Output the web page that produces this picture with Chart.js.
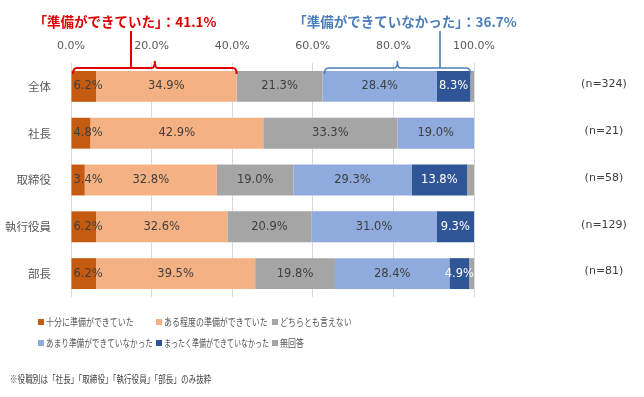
<!DOCTYPE html>
<html lang="ja">
<head>
<meta charset="utf-8">
<script src="https://cdn.jsdelivr.net/npm/chart.js@4"></script>
<style>
  html, body { margin: 0; padding: 0; background: #fff; }
  #wrap { position: relative; width: 644px; height: 397px; }
</style>
</head>
<body>
<div id="wrap"><canvas id="grafico"></canvas></div>
<script>
// dados
const categories = ['全体', '社長', '取締役', '執行役員', '部長'];
const sampleSizes = ['(n=324)', '(n=21)', '(n=58)', '(n=129)', '(n=81)'];
const seriesNames = ['十分に準備ができていた', 'ある程度の準備ができていた', 'どちらとも言えない',
                     'あまり準備ができていなかった', 'まったく準備ができていなかった', '無回答'];
const fullyPrepared    = [6.2, 4.8, 3.4, 6.2, 6.2];
const somewhatPrepared = [34.9, 42.9, 32.8, 32.6, 39.5];
const neutral          = [21.3, 33.3, 19.0, 20.9, 19.8];
const notVeryPrepared  = [28.4, 19.0, 29.3, 31.0, 28.4];
const notAtAllPrepared = [8.3, 0, 13.8, 9.3, 4.9];
const noAnswer         = [0.9, 0, 1.7, 0, 1.2];
const xTickValues = [0, 20, 40, 60, 80, 100];
const preparedTotal = 41.1;
const notPreparedTotal = 36.7;
const preparedLabel = '「準備ができていた」：' + preparedTotal.toFixed(1) + '%';
const notPreparedLabel = '「準備ができていなかった」：' + notPreparedTotal.toFixed(1) + '%';

const colors = ['#C55A11', '#F4B183', '#A5A5A5', '#8FAADC', '#2F5597', '#A5A5A5'];
const seriesData = [fullyPrepared, somewhatPrepared, neutral, notVeryPrepared, notAtAllPrepared, noAnswer];

const FONT_NUM = '"DejaVu Sans", "Noto Sans CJK JP", sans-serif';
const FONT_JP = '"Noto Sans CJK JP", "Noto Sans", sans-serif';

// rótulos de valor dentro das barras
const rotulosPlugin = {
    id: 'rotulos',
    afterDatasetsDraw(chart) {
        const ctx = chart.ctx;
        ctx.save();
        ctx.font = '11.5px ' + FONT_NUM;
        ctx.textBaseline = 'middle';
        chart.data.datasets.forEach((ds, di) => {
            if (di === 5) return;
            const meta = chart.getDatasetMeta(di);
            meta.data.forEach((bar, i) => {
                const v = ds.data[i];
                if (!v) return;
                const txt = v.toFixed(1) + '%';
                const w = ctx.measureText(txt).width;
                const left = Math.min(bar.x, bar.base);
                const segW = Math.abs(bar.x - bar.base);
                ctx.fillStyle = di === 4 ? '#FFFFFF' : '#404040';
                if (di === 0 && w > segW) {
                    ctx.textAlign = 'left';
                    ctx.fillText(txt, left + 2, bar.y);
                } else {
                    ctx.textAlign = 'center';
                    ctx.fillText(txt, left + segW / 2, bar.y);
                }
            });
        });
        ctx.restore();
    }
};

// (n=...), chaves, legenda e nota
const anotacoesPlugin = {
    id: 'anotacoes',
    afterDraw(chart) {
        const ctx = chart.ctx;
        const x = chart.scales.x;
        const y = chart.scales.y;
        const area = chart.chartArea;
        ctx.save();

        // n
        ctx.font = '11px ' + FONT_NUM;
        ctx.fillStyle = '#404040';
        ctx.textAlign = 'center';
        ctx.textBaseline = 'middle';
        sampleSizes.forEach((s, i) => {
            ctx.fillText(s, area.right + 130, y.getPixelForValue(i) - 2);
        });

        // chaves
        function chave(v0, v1, stemX, color, lw) {
            const x0 = x.getPixelForValue(v0) + 2;
            const x1 = x.getPixelForValue(v1);
            const mid = (x0 + x1) / 2;
            const yb = 68;
            ctx.strokeStyle = color;
            ctx.lineWidth = lw;
            ctx.beginPath();
            ctx.moveTo(x0, yb + 6);
            ctx.quadraticCurveTo(x0, yb, x0 + 4, yb);
            ctx.lineTo(mid - 3, yb);
            ctx.quadraticCurveTo(mid, yb, mid, yb - 7);
            ctx.quadraticCurveTo(mid, yb, mid + 3, yb);
            ctx.lineTo(x1 - 4, yb);
            ctx.quadraticCurveTo(x1, yb, x1, yb + 6);
            ctx.stroke();
            ctx.beginPath();
            ctx.moveTo(stemX, 31);
            ctx.lineTo(stemX, yb);
            ctx.stroke();
        }
        const blueStart = 100 - notPreparedTotal - noAnswer[0];
        chave(0, preparedTotal, 131, '#E00000', 2);
        chave(blueStart, 100 - noAnswer[0], 440, '#4A7EBB', 1.6);

        ctx.font = 'bold 13.5px ' + FONT_JP;
        ctx.textBaseline = 'middle';
        ctx.textAlign = 'center';
        ctx.fillStyle = '#E00000';
        ctx.fillText(preparedLabel, 125, 22);
        ctx.fillStyle = '#4A7EBB';
        ctx.fillText(notPreparedLabel, 405, 22);

        // legenda
        const colX = [38, 156, 272];
        const rowY = [322, 343];
        ctx.font = '10.5px ' + FONT_JP;
        ctx.textAlign = 'left';
        seriesNames.forEach((nome, i) => {
            const col = i % 3;
            const cx = colX[col];
            const cy = rowY[Math.floor(i / 3)];
            ctx.fillStyle = colors[i];
            ctx.fillRect(cx, cy - 3, 6, 6);
            ctx.fillStyle = '#595959';
            const sx = 0.76;
            const room = col < 2 ? (colX[col + 1] - cx - 11) / sx : undefined;
            ctx.save();
            ctx.translate(cx + 8, cy);
            ctx.scale(sx, 1);
            if (room) ctx.fillText(nome, 0, 0, room);
            else ctx.fillText(nome, 0, 0);
            ctx.restore();
        });

        // nota
        ctx.fillStyle = '#404040';
        ctx.save();
        ctx.translate(10, 379);
        ctx.scale(0.76, 1);
        ctx.font = '10px ' + FONT_JP;
        ctx.fillText('※役職別は「社長」「取締役」「執行役員」「部長」のみ抜粋', 0, 0);
        ctx.restore();

        ctx.restore();
    }
};

new Chart(document.getElementById('grafico'), {
    type: 'bar',
    data: {
        labels: categories,
        datasets: seriesNames.map((nome, i) => ({
            label: nome,
            data: seriesData[i],
            backgroundColor: colors[i],
            borderWidth: 0,
            barPercentage: 0.66,
            categoryPercentage: 1
        }))
    },
    options: {
        indexAxis: 'y',
        responsive: true,
        maintainAspectRatio: false,
        animation: false,
        layout: { padding: { top: 0, left: 0, right: 170, bottom: 100 } },
        plugins: {
            legend: { display: false },
            tooltip: { enabled: false }
        },
        scales: {
            x: {
                position: 'top',
                stacked: true,
                min: 0,
                max: 100,
                afterBuildTicks: scale => { scale.ticks = xTickValues.map(v => ({ value: v })); },
                afterFit: scale => { scale.height = 63; },
                grid: { color: '#D9D9D9', drawTicks: false },
                border: { display: false },
                ticks: {
                    padding: 10,
                    color: '#595959',
                    font: { family: FONT_NUM, size: 11 },
                    callback: v => v.toFixed(1) + '%'
                }
            },
            y: {
                stacked: true,
                afterFit: scale => { scale.width = 71; },
                grid: { display: false },
                border: { display: false },
                ticks: {
                    padding: 12,
                    color: '#595959',
                    font: { family: FONT_JP, size: 11.5 }
                }
            }
        }
    },
    plugins: [rotulosPlugin, anotacoesPlugin]
});
</script>
</body>
</html>
